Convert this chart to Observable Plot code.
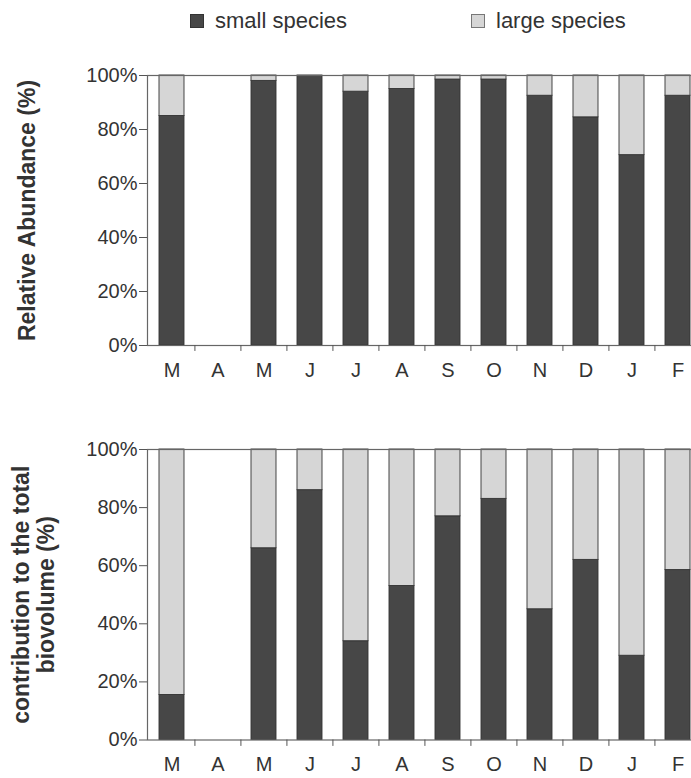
<!DOCTYPE html>
<html>
<head>
<meta charset="utf-8">
<script src="https://cdn.jsdelivr.net/npm/d3@7"></script>
<script src="https://cdn.jsdelivr.net/npm/@observablehq/plot@0.6"></script>
<style>
  html, body { margin: 0; padding: 0; background: #fff; overflow: hidden; }
  #page { position: relative; width: 691px; height: 778px; font-family: "Liberation Sans", Arial, sans-serif; color: #333; }
  .legend-item { position: absolute; z-index: 2; top: 9px; display: flex; align-items: center; font-size: 22px; line-height: 24px; }
  .swatch { width: 12px; height: 12px; margin-right: 11px; box-sizing: content-box; }
  .panel { position: absolute; left: 0; z-index: 1; }
</style>
</head>
<body>
<div id="page">
  <div class="legend-item" style="left:190px"><span class="swatch" style="background:#474747;border:1px solid #333"></span>small species</div>
  <div class="legend-item" style="left:471px"><span class="swatch" style="background:#d6d6d6;border:1px solid #777"></span>large species</div>
  <div class="panel" id="top" style="top:0px"></div>
  <div class="panel" id="bottom" style="top:395px"></div>
</div>
<script>
// Sampling months, March through February
const months = ["Mar", "Apr", "May", "Jun", "Jul", "Aug", "Sep", "Oct", "Nov", "Dec", "Jan", "Feb"];
const monthLetters = ["M", "A", "M", "J", "J", "A", "S", "O", "N", "D", "J", "F"];
const yTicks = [0, 20, 40, 60, 80, 100];

// Relative abundance (%) — no sample in April
const abundanceSmall = [85, null, 98, 100, 94, 95, 98.5, 98.5, 92.5, 84.5, 70.5, 92.5];
const abundanceLarge = [15, null, 2, 0, 6, 5, 1.5, 1.5, 7.5, 15.5, 29.5, 7.5];

// Contribution to the total biovolume (%)
const biovolumeSmall = [15.5, null, 66, 86, 34, 53, 77, 83, 45, 62, 29, 58.5];
const biovolumeLarge = [84.5, null, 34, 14, 66, 47, 23, 17, 55, 38, 71, 41.5];

const speciesNames = ["small species", "large species"];
const speciesColors = ["#474747", "#d6d6d6"];

function longRows(small, large) {
  const rows = [];
  months.forEach((m, i) => {
    if (small[i] == null) return;
    rows.push({month: m, species: speciesNames[0], value: small[i]});
    rows.push({month: m, species: speciesNames[1], value: large[i]});
  });
  return rows;
}

const W = 691;
const mLeft = 147, mRight = -10;
const step = (W - mRight - mLeft) / months.length;
const font = "'Liberation Sans', Arial, sans-serif";

function panel({rows, title, height, marginTop, marginBottom, titleDx}) {
  return Plot.plot({
    width: W,
    height,
    marginLeft: mLeft,
    marginRight: mRight,
    marginTop,
    marginBottom,
    style: {fontFamily: font, color: "#333", background: "transparent", overflow: "visible"},
    x: {domain: months, paddingInner: 0.46, paddingOuter: 0.23},
    y: {domain: [0, 100]},
    color: {domain: speciesNames, range: speciesColors},
    marks: [
      Plot.barY(rows, Plot.stackY({
        x: "month", y: "value", fill: "species", order: speciesNames,
        stroke: "#333", strokeWidth: 0.9
      })),
      Plot.frame({stroke: "#666", strokeWidth: 1.2}),
      // small tick marks at the boundaries between months
      Plot.ruleX(months.slice(1), {x: d => d, y1: 0, y2: -2.2, dx: -step / 2, stroke: "#555"}),
      Plot.axisY(yTicks, {
        tickSize: 8, tickPadding: 2, fontSize: 20, stroke: "#555",
        tickFormat: d => d + "%", label: null
      }),
      Plot.axisX({
        tickSize: 0, tickPadding: 17, fontSize: 20, label: null,
        tickFormat: d => monthLetters[months.indexOf(d)]
      }),
      Plot.text([title], {
        text: d => d, frameAnchor: "left", dx: titleDx, rotate: -90,
        textAnchor: "middle", lineAnchor: "middle", lineHeight: 1.1,
        fontSize: 23, fontWeight: "bold", fill: "#333"
      })
    ]
  });
}

document.getElementById("top").append(panel({
  rows: longRows(abundanceSmall, abundanceLarge),
  title: "Relative Abundance (%)",
  height: 395, marginTop: 75, marginBottom: 50,
  titleDx: -121
}));

document.getElementById("bottom").append(panel({
  rows: longRows(biovolumeSmall, biovolumeLarge),
  title: "contribution to the total\nbiovolume (%)",
  height: 383, marginTop: 54, marginBottom: 38.5,
  titleDx: -114
}));
</script>
</body>
</html>
